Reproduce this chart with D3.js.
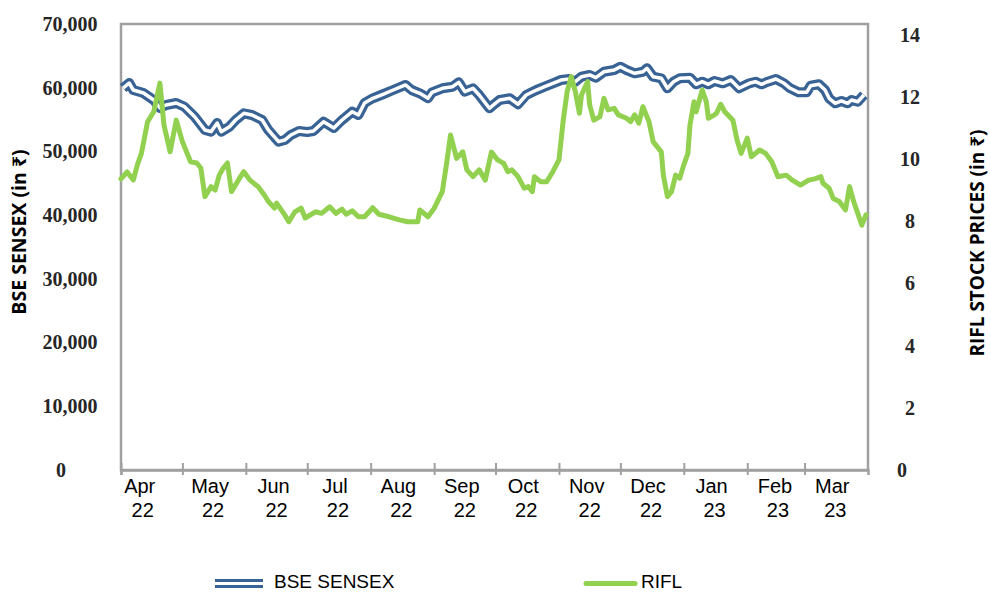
<!DOCTYPE html>
<html>
<head>
<meta charset="utf-8">
<script src="https://cdn.jsdelivr.net/npm/d3@7"></script>
<style>
  body { margin: 0; background: #fff; }
  svg { display: block; }
</style>
</head>
<body>
<div id="chart"></div>
<script>
// month labels on the x axis (two lines each)
const monthNames = ['Apr', 'May', 'Jun', 'Jul', 'Aug', 'Sep', 'Oct', 'Nov', 'Dec', 'Jan', 'Feb', 'Mar']
const monthYears = ['22', '22', '22', '22', '22', '22', '22', '22', '22', '23', '23', '23']

const sensexTicks = [0, 10000, 20000, 30000, 40000, 50000, 60000, 70000]
const riflTicks = [0, 2, 4, 6, 8, 10, 12, 14]

// BSE SENSEX
const sensexDates = [
  '2022-04-02', '2022-04-05', '2022-04-07', '2022-04-12', '2022-04-17', '2022-04-20', '2022-04-23', '2022-04-28', '2022-05-02', '2022-05-07',
  '2022-05-12', '2022-05-15', '2022-05-18', '2022-05-20', '2022-05-24', '2022-05-27', '2022-05-31', '2022-06-04', '2022-06-09', '2022-06-12',
  '2022-06-17', '2022-06-20', '2022-06-23', '2022-06-27', '2022-07-01', '2022-07-04', '2022-07-09', '2022-07-14', '2022-07-18', '2022-07-23',
  '2022-07-26', '2022-07-29', '2022-08-02', '2022-08-07', '2022-08-12', '2022-08-18', '2022-08-21', '2022-08-25', '2022-08-29', '2022-08-31',
  '2022-09-05', '2022-09-10', '2022-09-13', '2022-09-16', '2022-09-20', '2022-09-23', '2022-09-28', '2022-09-30', '2022-10-03', '2022-10-08',
  '2022-10-12', '2022-10-16', '2022-10-21', '2022-10-25', '2022-10-29', '2022-11-02', '2022-11-06', '2022-11-09', '2022-11-12', '2022-11-16',
  '2022-11-19', '2022-11-23', '2022-11-28', '2022-12-01', '2022-12-04', '2022-12-08', '2022-12-12', '2022-12-14', '2022-12-17', '2022-12-21',
  '2022-12-24', '2022-12-27', '2022-12-30', '2023-01-04', '2023-01-07', '2023-01-10', '2023-01-13', '2023-01-16', '2023-01-20', '2023-01-24',
  '2023-01-28', '2023-02-02', '2023-02-05', '2023-02-08', '2023-02-11', '2023-02-15', '2023-02-19', '2023-02-22', '2023-02-26', '2023-03-02',
  '2023-03-04', '2023-03-08', '2023-03-11', '2023-03-13', '2023-03-16', '2023-03-19', '2023-03-22', '2023-03-24', '2023-03-27', '2023-03-30'
]
const sensexValues = [
  59950, 60740, 59640, 59170, 58070, 56820, 57290, 57600, 57020, 55450,
  53360, 53100, 54460, 53100, 53880, 54930, 55980, 55720, 54930, 53360,
  51530, 51790, 52580, 53210, 53050, 53210, 54670, 53680, 54930, 56240,
  55720, 57600, 58340, 58970, 59640, 60430, 59640, 59120, 58340, 59280,
  59910, 60160, 60850, 59380, 59910, 58860, 56770, 57290, 58070, 58340,
  57400, 58860, 59640, 60160, 60690, 61210, 61370, 60940, 61730, 62000,
  61570, 62510, 62780, 63300, 62780, 62260, 62510, 63050, 61730, 61480,
  59910, 60940, 61480, 61570, 60540, 60940, 60540, 61050, 60690, 61210,
  59910, 60690, 60940, 60540, 60940, 61370, 60690, 59910, 59280, 59280,
  60320, 60540, 59640, 58340, 57550, 57920, 57550, 58070, 57800, 58860
]

// RIFL stock price
const riflDates = [
  '2022-04-01', '2022-04-04', '2022-04-07', '2022-04-09', '2022-04-11', '2022-04-14', '2022-04-17', '2022-04-20', '2022-04-22', '2022-04-25',
  '2022-04-28', '2022-05-01', '2022-05-05', '2022-05-08', '2022-05-10', '2022-05-12', '2022-05-15', '2022-05-17', '2022-05-19', '2022-05-21',
  '2022-05-23', '2022-05-25', '2022-05-29', '2022-05-31', '2022-06-03', '2022-06-07', '2022-06-10', '2022-06-12', '2022-06-15', '2022-06-16',
  '2022-06-20', '2022-06-22', '2022-06-25', '2022-06-28', '2022-06-30', '2022-07-05', '2022-07-08', '2022-07-12', '2022-07-15', '2022-07-18',
  '2022-07-20', '2022-07-23', '2022-07-26', '2022-07-29', '2022-08-02', '2022-08-05', '2022-08-10', '2022-08-15', '2022-08-19', '2022-08-24',
  '2022-08-25', '2022-08-29', '2022-09-01', '2022-09-05', '2022-09-07', '2022-09-09', '2022-09-12', '2022-09-15', '2022-09-17', '2022-09-20',
  '2022-09-23', '2022-09-26', '2022-09-29', '2022-10-02', '2022-10-05', '2022-10-07', '2022-10-09', '2022-10-12', '2022-10-15', '2022-10-17',
  '2022-10-19', '2022-10-20', '2022-10-23', '2022-10-26', '2022-10-29', '2022-11-01', '2022-11-03', '2022-11-05', '2022-11-07', '2022-11-09',
  '2022-11-11', '2022-11-12', '2022-11-15', '2022-11-16', '2022-11-18', '2022-11-21', '2022-11-23', '2022-11-25', '2022-11-28', '2022-11-30',
  '2022-12-04', '2022-12-06', '2022-12-08', '2022-12-10', '2022-12-12', '2022-12-15', '2022-12-17', '2022-12-21', '2022-12-22', '2022-12-24',
  '2022-12-26', '2022-12-28', '2022-12-30', '2023-01-01', '2023-01-03', '2023-01-04', '2023-01-06', '2023-01-07', '2023-01-10', '2023-01-12',
  '2023-01-13', '2023-01-16', '2023-01-17', '2023-01-19', '2023-01-21', '2023-01-25', '2023-01-27', '2023-01-29', '2023-02-01', '2023-02-03',
  '2023-02-07', '2023-02-10', '2023-02-13', '2023-02-16', '2023-02-20', '2023-02-23', '2023-02-27', '2023-03-03', '2023-03-06', '2023-03-09',
  '2023-03-10', '2023-03-13', '2023-03-15', '2023-03-18', '2023-03-21', '2023-03-23', '2023-03-25', '2023-03-27', '2023-03-29', '2023-03-31'
]
const riflValues = [
  9.37, 9.59, 9.33, 9.82, 10.20, 11.21, 11.53, 12.45, 11.10, 10.24,
  11.26, 10.57, 9.92, 9.88, 9.72, 8.80, 9.12, 9.01, 9.49, 9.72,
  9.88, 8.96, 9.40, 9.60, 9.33, 9.12, 8.85, 8.64, 8.43, 8.59,
  8.21, 7.99, 8.31, 8.43, 8.11, 8.31, 8.26, 8.47, 8.26, 8.40,
  8.23, 8.34, 8.15, 8.15, 8.44, 8.23, 8.15, 8.05, 7.99, 7.99,
  8.37, 8.15, 8.42, 8.96, 9.82, 10.78, 10.03, 10.24, 9.66, 9.44,
  9.66, 9.33, 10.23, 9.98, 9.87, 9.60, 9.66, 9.44, 9.07, 9.12,
  8.96, 9.44, 9.28, 9.28, 9.60, 9.98, 11.21, 12.18, 12.66, 12.18,
  11.48, 12.07, 12.50, 11.75, 11.26, 11.37, 11.96, 11.59, 11.64, 11.43,
  11.32, 11.21, 11.43, 11.16, 11.69, 11.21, 10.57, 10.24, 9.49, 8.80,
  8.96, 9.49, 9.39, 9.82, 10.19, 11.10, 11.85, 11.53, 12.23, 11.85,
  11.32, 11.43, 11.48, 11.77, 11.53, 11.26, 10.62, 10.19, 10.68, 10.08,
  10.30, 10.19, 9.92, 9.44, 9.49, 9.33, 9.17, 9.33, 9.37, 9.44,
  9.23, 9.07, 8.74, 8.64, 8.37, 9.12, 8.64, 8.26, 7.88, 8.21
]

const blue = '#386394'
const green = '#92D050'
const axisGrey = '#a0a0a0'
const tickFont = '"Liberation Serif", serif'
const titleFont = '"Open Sans", "Noto Sans", "DejaVu Sans", sans-serif'
const labelFont = '"Liberation Sans", Arial, sans-serif'

const width = 990, height = 593
const margin = { top: 24, right: 122, bottom: 123, left: 121 }
const innerW = width - margin.left - margin.right
const innerH = height - margin.top - margin.bottom

const parse = d3.timeParse('%Y-%m-%d')
const sensex = sensexDates.map((d, i) => ({ date: parse(d), value: sensexValues[i] }))
const rifl = riflDates.map((d, i) => ({ date: parse(d), value: riflValues[i] }))

const svg = d3.select('#chart').append('svg')
  .attr('width', width)
  .attr('height', height)

const g = svg.append('g')
  .attr('transform', `translate(${margin.left},${margin.top})`)

const x = d3.scaleTime()
  .domain([new Date(2022, 3, 1), new Date(2023, 3, 1)])
  .range([0, innerW])
const yLeft = d3.scaleLinear().domain([0, 70000]).range([innerH, 0])
// right axis tops out a little below the plot frame
const yRight = d3.scaleLinear().domain([0, 14]).range([innerH, 11])

// plot frame
g.append('rect')
  .attr('x', 0).attr('y', 0)
  .attr('width', innerW).attr('height', innerH)
  .attr('fill', 'none')
  .attr('stroke', axisGrey)
  .attr('stroke-width', 2.5)

// left axis labels
const leftAxis = g.append('g')
  .call(d3.axisLeft(yLeft).tickValues(sensexTicks).tickSize(0).tickFormat(d3.format(',')))
leftAxis.select('.domain').remove()
leftAxis.selectAll('text')
  .attr('x', -51)
  .attr('dx', d => d === 0 ? -9 : 0)
  .attr('text-anchor', 'middle')
  .attr('font-family', tickFont)
  .attr('font-weight', 'bold')
  .attr('font-size', 20)
  .attr('fill', '#262626')

// right axis labels
const rightAxis = g.append('g')
  .attr('transform', `translate(${innerW},0)`)
  .call(d3.axisRight(yRight).tickValues(riflTicks).tickSize(0))
rightAxis.select('.domain').remove()
rightAxis.selectAll('text')
  .attr('x', 42)
  .attr('dx', d => d === 0 ? -8 : 0)
  .attr('text-anchor', 'middle')
  .attr('font-family', tickFont)
  .attr('font-weight', 'bold')
  .attr('font-size', 20)
  .attr('fill', '#262626')

// x axis
const monthStarts = d3.timeMonth.range(new Date(2022, 3, 1), new Date(2023, 3, 1))
const xAxis = g.append('g')
  .attr('transform', `translate(0,${innerH})`)
  .call(d3.axisBottom(x).tickValues(monthStarts).tickSize(5).tickFormat(''))
xAxis.select('.domain').attr('stroke', axisGrey).attr('stroke-width', 2.5)
xAxis.selectAll('.tick line')
  .attr('y1', -7)
  .attr('stroke', axisGrey)
  .attr('stroke-width', 2)

monthStarts.forEach((m, i) => {
  const mid = x(d3.timeDay.offset(m, 15)) - (i === 0 ? 12 : 3)
  g.append('text')
    .attr('x', mid).attr('y', innerH + 23)
    .attr('text-anchor', 'middle')
    .attr('font-family', labelFont)
    .attr('font-size', 20)
    .attr('fill', '#000')
    .text(monthNames[i])
  g.append('text')
    .attr('x', mid + 3).attr('y', innerH + 47)
    .attr('text-anchor', 'middle')
    .attr('font-family', labelFont)
    .attr('font-size', 20)
    .attr('fill', '#000')
    .text(monthYears[i])
})

// axis titles
svg.append('text')
  .attr('transform', 'translate(26,232) rotate(-90)')
  .attr('text-anchor', 'middle')
  .attr('font-family', titleFont)
  .attr('font-weight', 'bold')
  .attr('font-size', 19.5)
  .attr('fill', '#000')
  .text('BSE SENSEX (in ₹)')

svg.append('text')
  .attr('transform', 'translate(984,243) rotate(-90)')
  .attr('text-anchor', 'middle')
  .attr('font-family', titleFont)
  .attr('font-weight', 'bold')
  .attr('font-size', 19)
  .attr('fill', '#000')
  .text('RIFL STOCK PRICES (in ₹)')

// lines
const sensexLine = d3.line().x(d => x(d.date)).y(d => yLeft(d.value))
const riflLine = d3.line().x(d => x(d.date)).y(d => yRight(d.value))

// double line: wide blue with a thin white core
g.append('path')
  .datum(sensex)
  .attr('d', sensexLine)
  .attr('fill', 'none')
  .attr('stroke', blue)
  .attr('stroke-width', 10)
  .attr('stroke-linejoin', 'round')
g.append('path')
  .datum(sensex)
  .attr('d', sensexLine)
  .attr('fill', 'none')
  .attr('stroke', '#fff')
  .attr('stroke-width', 3.5)
  .attr('stroke-linejoin', 'round')

g.append('path')
  .datum(rifl)
  .attr('d', riflLine)
  .attr('fill', 'none')
  .attr('stroke', green)
  .attr('stroke-width', 5)
  .attr('stroke-linejoin', 'round')
  .attr('stroke-linecap', 'round')

// legend
const legend = svg.append('g')
legend.append('line')
  .attr('x1', 215).attr('x2', 263).attr('y1', 583.5).attr('y2', 583.5)
  .attr('stroke', blue).attr('stroke-width', 9)
legend.append('line')
  .attr('x1', 215).attr('x2', 263).attr('y1', 583.5).attr('y2', 583.5)
  .attr('stroke', '#fff').attr('stroke-width', 3)
legend.append('text')
  .attr('x', 274).attr('y', 588)
  .attr('font-family', labelFont).attr('font-size', 19).attr('fill', '#000')
  .text('BSE SENSEX')

legend.append('line')
  .attr('x1', 586).attr('x2', 635).attr('y1', 583.5).attr('y2', 583.5)
  .attr('stroke', green).attr('stroke-width', 5).attr('stroke-linecap', 'round')
legend.append('text')
  .attr('x', 641).attr('y', 588)
  .attr('font-family', labelFont).attr('font-size', 19).attr('fill', '#000')
  .text('RIFL')
</script>
</body>
</html>
